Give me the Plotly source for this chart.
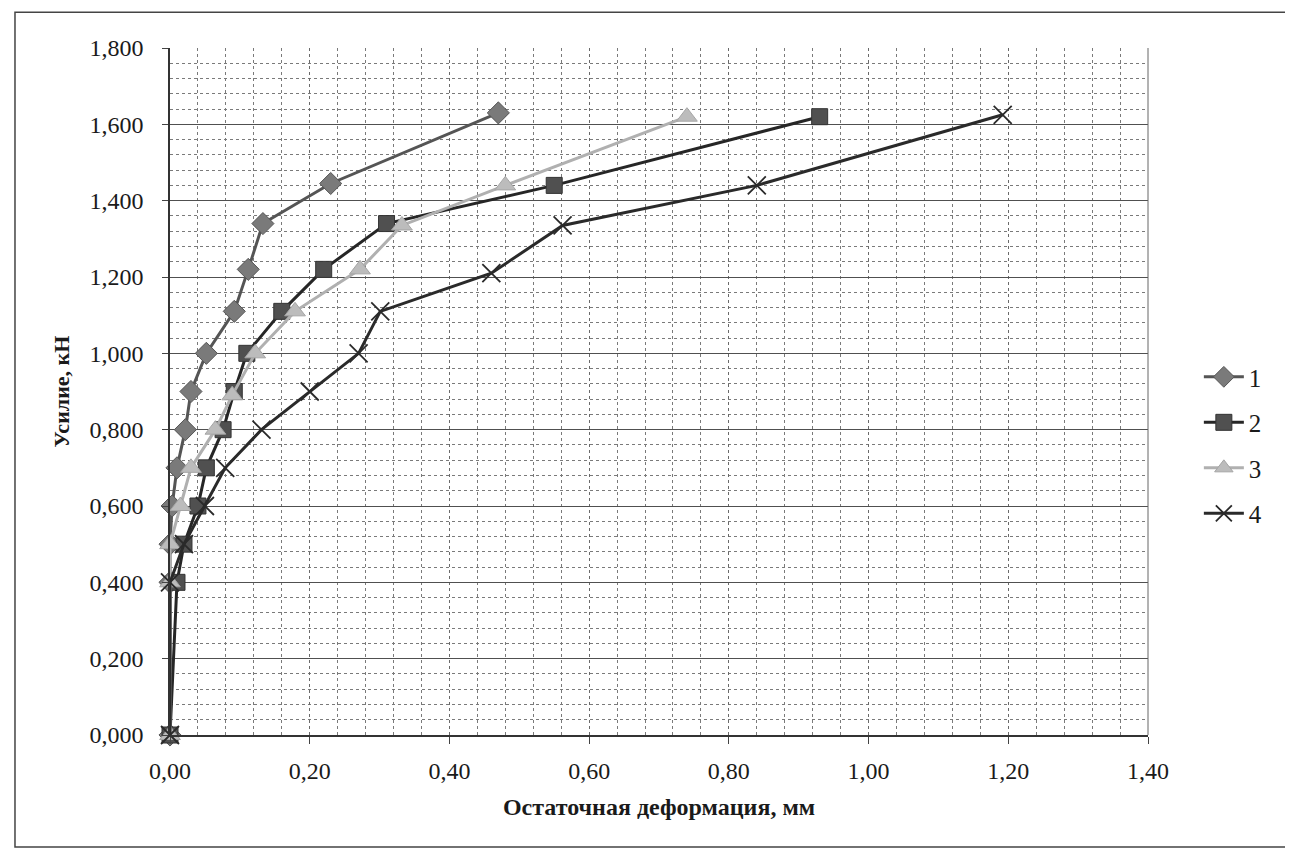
import plotly.graph_objects as go

# Data
series_names = ["1", "2", "3", "4"]

x1 = [0.0, 0.0, 0.0, 0.003, 0.010, 0.022, 0.030, 0.052, 0.092, 0.112, 0.133, 0.230, 0.470]
y1 = [0.0, 0.40, 0.50, 0.60, 0.70, 0.80, 0.90, 1.00, 1.11, 1.22, 1.34, 1.445, 1.63]

x2 = [0.0, 0.010, 0.020, 0.040, 0.052, 0.076, 0.092, 0.110, 0.160, 0.220, 0.310, 0.550, 0.930]
y2 = [0.0, 0.40, 0.50, 0.60, 0.70, 0.80, 0.90, 1.00, 1.11, 1.22, 1.34, 1.44, 1.62]

x3 = [0.0, 0.0, 0.0, 0.015, 0.030, 0.065, 0.089, 0.122, 0.179, 0.272, 0.332, 0.480, 0.740]
y3 = [0.0, 0.40, 0.50, 0.60, 0.70, 0.80, 0.89, 1.00, 1.11, 1.22, 1.335, 1.44, 1.62]

x4 = [0.0, 0.0, 0.020, 0.050, 0.079, 0.131, 0.200, 0.270, 0.301, 0.460, 0.562, 0.840, 1.192]
y4 = [0.0, 0.40, 0.50, 0.60, 0.70, 0.80, 0.90, 1.00, 1.11, 1.21, 1.335, 1.44, 1.625]

x_tickvals = [0.0, 0.2, 0.4, 0.6, 0.8, 1.0, 1.2, 1.4]
x_ticktext = ["0,00", "0,20", "0,40", "0,60", "0,80", "1,00", "1,20", "1,40"]
y_tickvals = [0.0, 0.2, 0.4, 0.6, 0.8, 1.0, 1.2, 1.4, 1.6, 1.8]
y_ticktext = ["0,000", "0,200", "0,400", "0,600", "0,800", "1,000", "1,200", "1,400", "1,600", "1,800"]

x_title = "Остаточная деформация, мм"
y_title = "Усилие, кН"

FONT = "Liberation Serif, Times New Roman, serif"

styles = [
    dict(line=dict(color="#555555", width=3),
         marker=dict(symbol="diamond", size=17, color="#7a7a7a", line=dict(color="#555555", width=1))),
    dict(line=dict(color="#262626", width=3),
         marker=dict(symbol="square", size=16, color="#505050", line=dict(color="#333333", width=1))),
    dict(line=dict(color="#b0b0b0", width=3),
         marker=dict(symbol="triangle-up", size=18, color="#bcbcbc", line=dict(color="#a5a5a5", width=1))),
    dict(line=dict(color="#2a2a2a", width=3),
         marker=dict(symbol="x-thin-open", size=18, color="#2a2a2a", line=dict(color="#2a2a2a", width=1.8))),
]

fig = go.Figure()
for name, xs, ys, st in zip(series_names, [x1, x2, x3, x4], [y1, y2, y3, y4], styles):
    fig.add_trace(go.Scatter(
        x=xs, y=ys, name=name, mode="lines+markers",
        line=st["line"], marker=st["marker"], legendgroup=name,
        cliponaxis=False,
    ))

fig.update_layout(
    width=1293, height=850,
    paper_bgcolor="white", plot_bgcolor="white",
    margin=dict(l=162, r=153, t=40, b=123),
    font=dict(family=FONT, size=24, color="#1a1a1a"),
    showlegend=True,
    legend=dict(
        x=1.052, y=0.422, xanchor="left", yanchor="middle",
        font=dict(family=FONT, size=25, color="#1a1a1a"),
        tracegroupgap=10, traceorder="grouped",
        bgcolor="rgba(0,0,0,0)", itemwidth=40,
    ),
)

fig.update_xaxes(
    range=[0, 1.4], tickvals=x_tickvals, ticktext=x_ticktext,
    ticks="outside", ticklen=7, tickcolor="#444", ticklabelstandoff=6,
    showline=True, linecolor="#333", linewidth=1.5, mirror=False,
    showgrid=True, gridcolor="#6a6a6a", gridwidth=1, griddash="dot",
    minor=dict(dtick=0.04, showgrid=True, gridcolor="#7a7a7a", griddash="dot", gridwidth=1),
    zeroline=False,
    title=dict(text="<b>" + x_title + "</b>", font=dict(family=FONT, size=24), standoff=16),
    tickfont=dict(family=FONT, size=24),
)
fig.update_yaxes(
    range=[0, 1.8], tickvals=y_tickvals, ticktext=y_ticktext,
    ticks="outside", ticklen=6, tickcolor="#444", ticklabelstandoff=14,
    showline=True, linecolor="#333", linewidth=1.5,
    showgrid=True, gridcolor="#505050", gridwidth=1.3,
    minor=dict(dtick=0.04, showgrid=True, gridcolor="#7a7a7a", griddash="dot", gridwidth=1),
    zeroline=False,
    title=dict(text="<b>" + y_title + "</b>", font=dict(family=FONT, size=22), standoff=14),
    tickfont=dict(family=FONT, size=24),
)

# right border of plot area and outer chart frame
fig.add_shape(type="line", xref="paper", yref="paper", x0=1, x1=1, y0=0, y1=1,
              line=dict(color="#666", width=1))
fig.add_shape(type="rect", xref="paper", yref="paper",
              x0=-0.1585, x1=1.155, y0=-0.163, y1=1.052,
              line=dict(color="#444", width=1.5))

fig.write_html("out.html")
